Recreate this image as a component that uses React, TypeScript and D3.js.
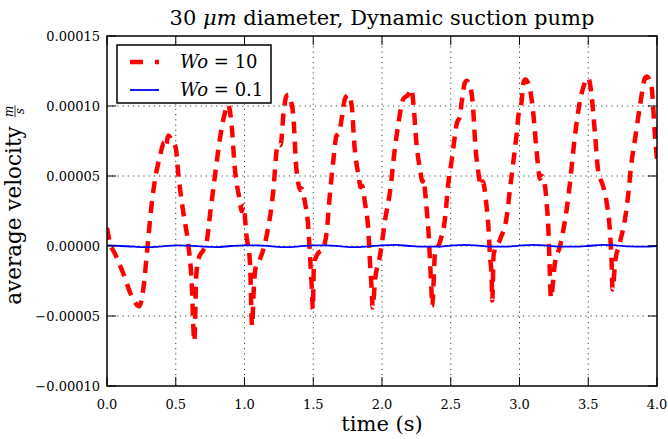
import React, { useEffect, useRef } from 'react';
import * as d3 from 'd3';

// velocities are given in units of 1e-5 m/s
const UNIT = 1e-5;

const redTime = [
  0.0, 0.02, 0.06, 0.12, 0.18, 0.235, 0.265, 0.295, 0.325, 0.35, 0.385, 0.415, 0.428, 0.446, 0.47, 0.5, 0.52, 0.555, 0.59, 0.615,
  0.635, 0.65, 0.67, 0.7, 0.725, 0.75, 0.785, 0.82, 0.86, 0.88, 0.905, 0.93, 0.965, 0.98, 0.992, 1.015, 1.04, 1.055, 1.068, 1.08,
  1.11, 1.16, 1.21, 1.235, 1.25, 1.262, 1.285, 1.305, 1.32, 1.34, 1.355, 1.375, 1.395, 1.405, 1.415, 1.44, 1.465, 1.478, 1.49, 1.497,
  1.505, 1.53, 1.57, 1.6, 1.62, 1.645, 1.67, 1.685, 1.707, 1.73, 1.755, 1.78, 1.8, 1.83, 1.845, 1.855, 1.876, 1.9, 1.913, 1.925,
  1.932, 1.95, 1.985, 2.0, 2.02, 2.06, 2.095, 2.12, 2.155, 2.19, 2.215, 2.23, 2.25, 2.276, 2.295, 2.302, 2.312, 2.325, 2.337, 2.35,
  2.36, 2.366, 2.385, 2.42, 2.46, 2.48, 2.505, 2.52, 2.545, 2.565, 2.58, 2.604, 2.615, 2.65, 2.665, 2.676, 2.7, 2.722, 2.732, 2.76,
  2.775, 2.785, 2.797, 2.802, 2.812, 2.86, 2.907, 2.93, 2.955, 2.98, 2.992, 3.015, 3.03, 3.042, 3.076, 3.1, 3.125, 3.15, 3.16, 3.185,
  3.197, 3.21, 3.22, 3.228, 3.258, 3.295, 3.32, 3.343, 3.367, 3.4, 3.43, 3.466, 3.5, 3.525, 3.55, 3.573, 3.6, 3.61, 3.634, 3.66,
  3.67, 3.677, 3.695, 3.73, 3.767, 3.79, 3.815, 3.84, 3.876, 3.913, 3.925, 3.96, 3.975, 3.985, 4.0,
];
const redVel = [
  1.3, 0.3, -0.6, -2.0, -3.6, -4.3, -3.0, 0.0, 3.0, 4.8, 6.4, 7.4, 7.1, 7.9, 7.6, 7.0, 5.0, 2.4, 0.2, -2.4,
  -6.8, -2.0, -0.8, -0.3, 0.3, 2.3, 5.0, 7.6, 9.6, 10.1, 8.8, 5.5, 3.3, 2.5, 2.9, 0.7, -1.2, -5.7, -3.0, -1.6,
  -1.0, 0.7, 4.0, 6.9, 7.3, 7.2, 9.6, 10.7, 10.8, 10.3, 9.3, 5.8, 4.3, 4.0, 4.1, 3.1, 1.2, -1.0, -3.1, -4.5,
  -1.3, -0.6, -0.2, 1.2, 3.6, 6.0, 7.9, 8.0, 9.1, 10.5, 10.8, 10.0, 7.1, 5.0, 4.2, 4.3, 3.1, 1.2, -1.2, -3.1,
  -4.4, -2.4, -0.7, 0.25, 1.7, 4.0, 7.1, 8.8, 10.5, 10.8, 11.2, 10.0, 7.4, 5.5, 4.6, 4.8, 4.0, 2.6, 1.2, -1.2,
  -3.3, -4.3, -0.6, 0.25, 2.1, 4.3, 6.0, 7.1, 8.8, 9.2, 10.3, 11.7, 11.8, 11.0, 9.5, 7.6, 5.3, 4.3, 4.6, 2.9,
  1.2, -0.7, -2.1, -3.9, -0.6, 0.5, 2.1, 4.0, 6.0, 8.1, 9.3, 10.3, 11.7, 11.9, 11.2, 9.5, 6.7, 4.8, 5.0, 4.3,
  3.1, 1.2, -1.7, -3.7, -1.2, 0.0, 1.2, 2.6, 4.5, 7.6, 9.8, 11.4, 12.0, 10.7, 7.9, 5.3, 4.5, 4.2, 3.1, 0.7,
  -1.2, -3.1, -1.2, 0.25, 1.9, 3.6, 6.0, 7.6, 10.0, 12.0, 12.1, 11.4, 9.5, 7.9, 6.2,
];

const blueTime = [
  0.0, 0.1, 0.2, 0.3, 0.4, 0.5, 0.6, 0.7, 0.8, 0.9, 1.0, 1.1, 1.2, 1.3, 1.4, 1.5, 1.6, 1.7, 1.8, 1.9, 2.0,
  2.1, 2.2, 2.3, 2.4, 2.5, 2.6, 2.7, 2.8, 2.9, 3.0, 3.1, 3.2, 3.3, 3.4, 3.5, 3.6, 3.7, 3.8, 3.9, 4.0,
];
const blueVel = [
  0.05, 0.0, -0.05, -0.08, -0.03, 0.05, 0.03, -0.05, -0.08, 0.0, 0.05, 0.05, -0.03, -0.08, -0.03, 0.05, 0.05, -0.03, -0.08, -0.03, 0.05,
  0.08, 0.0, -0.05, -0.05, 0.03, 0.08, 0.03, -0.05, -0.05, 0.03, 0.08, 0.03, -0.05, -0.05, 0.0, 0.08, 0.05, -0.03, -0.05, 0.0,
];

const xTicks = [0, 0.5, 1.0, 1.5, 2.0, 2.5, 3.0, 3.5, 4.0];
const yTicks = [-0.0001, -0.00005, 0, 0.00005, 0.0001, 0.00015];

const seriesNames = ['10', '0.1'];

const W = 668;
const H = 439;
const FONT = '"DejaVu Serif", "Liberation Serif", serif';

export default function App() {
  const svgRef = useRef<SVGSVGElement>(null);

  useEffect(() => {
    document.body.style.margin = '0';
    if (!svgRef.current) return;

    const left = 107, right = 657, top = 36, bottom = 386;
    const x = d3.scaleLinear().domain([0, 4]).range([left, right]);
    const y = d3.scaleLinear().domain([-0.0001, 0.00015]).range([bottom, top]);

    const svg = d3.select(svgRef.current)
      .attr('viewBox', `0 0 ${W} ${H}`)
      .html('');

    svg.append('rect').attr('width', W).attr('height', H).attr('fill', '#fff');

    svg.append('clipPath').attr('id', 'plotclip')
      .append('rect')
      .attr('x', left).attr('y', top)
      .attr('width', right - left).attr('height', bottom - top);

    // dotted grid
    const grid = svg.append('g')
      .attr('stroke', '#000')
      .attr('stroke-width', 1)
      .attr('stroke-dasharray', '1.2,4')
      .attr('opacity', 0.75);
    grid.selectAll('.gx')
      .data(xTicks.slice(1, -1))
      .enter()
      .append('line')
      .attr('x1', d => x(d)).attr('x2', d => x(d))
      .attr('y1', top).attr('y2', bottom);
    grid.selectAll('.gy')
      .data(yTicks.slice(1, -1))
      .enter()
      .append('line')
      .attr('x1', left).attr('x2', right)
      .attr('y1', d => y(d)).attr('y2', d => y(d));

    // data lines
    const lines = svg.append('g').attr('clip-path', 'url(#plotclip)');
    const line = d3.line<[number, number]>()
      .x(d => x(d[0]))
      .y(d => y(d[1] * UNIT))
      .curve(d3.curveMonotoneX);

    const red: [number, number][] = redTime.map((t, i) => [t, redVel[i]]);
    const blue: [number, number][] = blueTime.map((t, i) => [t, blueVel[i]]);

    lines.append('path')
      .attr('d', line(red))
      .attr('fill', 'none')
      .attr('stroke', '#ff0000')
      .attr('stroke-width', 4.5)
      .attr('stroke-dasharray', '12,8');

    lines.append('path')
      .attr('d', line(blue))
      .attr('fill', 'none')
      .attr('stroke', '#0000ff')
      .attr('stroke-width', 1.8);

    // frame
    svg.append('rect')
      .attr('x', left).attr('y', top)
      .attr('width', right - left).attr('height', bottom - top)
      .attr('fill', 'none')
      .attr('stroke', '#000')
      .attr('stroke-width', 1.5);

    // inward ticks on all four sides
    const tickLen = 9;
    const ticks = svg.append('g').attr('stroke', '#000').attr('stroke-width', 1);
    xTicks.forEach(t => {
      ticks.append('line').attr('x1', x(t)).attr('x2', x(t)).attr('y1', bottom).attr('y2', bottom - tickLen);
      ticks.append('line').attr('x1', x(t)).attr('x2', x(t)).attr('y1', top).attr('y2', top + tickLen);
    });
    yTicks.forEach(v => {
      ticks.append('line').attr('x1', left).attr('x2', left + tickLen).attr('y1', y(v)).attr('y2', y(v));
      ticks.append('line').attr('x1', right).attr('x2', right - tickLen).attr('y1', y(v)).attr('y2', y(v));
    });

    // tick labels
    svg.selectAll('.xl')
      .data(xTicks)
      .enter()
      .append('text')
      .attr('x', d => x(d))
      .attr('y', 409)
      .attr('text-anchor', 'middle')
      .attr('font-family', FONT)
      .attr('font-size', 13)
      .attr('fill', '#000')
      .text(d => d.toFixed(1));

    svg.selectAll('.yl')
      .data(yTicks)
      .enter()
      .append('text')
      .attr('x', 100)
      .attr('y', d => y(d) + 5)
      .attr('text-anchor', 'end')
      .attr('font-family', FONT)
      .attr('font-size', 13)
      .attr('fill', '#000')
      .text(d => (d < 0 ? '\u2212' : '') + Math.abs(d).toFixed(5));

    // title
    const title = svg.append('text')
      .attr('x', 382)
      .attr('y', 25)
      .attr('text-anchor', 'middle')
      .attr('font-family', FONT)
      .attr('font-size', 21)
      .attr('fill', '#000');
    title.append('tspan').text('30 ');
    title.append('tspan').attr('font-style', 'italic').text('\u03bcm');
    title.append('tspan').text(' diameter, Dynamic suction pump');

    // x label
    svg.append('text')
      .attr('x', 382)
      .attr('y', 431)
      .attr('text-anchor', 'middle')
      .attr('font-family', FONT)
      .attr('font-size', 21)
      .attr('fill', '#000')
      .text('time (s)');

    // y label with m/s fraction
    const yl = svg.append('g').attr('transform', 'translate(21,205) rotate(-90)');
    const ylText = yl.append('text')
      .attr('font-family', FONT)
      .attr('font-size', 21.5)
      .attr('fill', '#000')
      .text('average velocity');
    const textW = (ylText.node() as SVGTextElement).getComputedTextLength();
    const fracW = 12;
    const gap = 9;
    const total = textW + gap + fracW;
    ylText.attr('x', -total / 2);
    const fx = -total / 2 + textW + gap + fracW / 2;
    yl.append('line')
      .attr('x1', fx - fracW / 2).attr('x2', fx + fracW / 2)
      .attr('y1', -6).attr('y2', -6)
      .attr('stroke', '#000').attr('stroke-width', 0.8);
    yl.append('text')
      .attr('x', fx).attr('y', -8)
      .attr('text-anchor', 'middle')
      .attr('font-family', FONT).attr('font-style', 'italic')
      .attr('font-size', 12).text('m');
    yl.append('text')
      .attr('x', fx).attr('y', 3)
      .attr('text-anchor', 'middle')
      .attr('font-family', FONT).attr('font-style', 'italic')
      .attr('font-size', 12).text('s');

    // legend
    const lg = svg.append('g');
    lg.append('rect')
      .attr('x', 117).attr('y', 45)
      .attr('width', 154).attr('height', 58)
      .attr('fill', '#fff')
      .attr('stroke', '#000')
      .attr('stroke-width', 1.5);
    const legendRows = [
      { color: '#ff0000', width: 4.5, dash: '13,12', name: seriesNames[0] },
      { color: '#0000ff', width: 1.8, dash: null as string | null, name: seriesNames[1] },
    ];
    legendRows.forEach((r, i) => {
      const ry = 62 + i * 28;
      lg.append('line')
        .attr('x1', 130).attr('x2', 159)
        .attr('y1', ry).attr('y2', ry)
        .attr('stroke', r.color)
        .attr('stroke-width', r.width)
        .attr('stroke-dasharray', r.dash);
      const t = lg.append('text')
        .attr('x', 180).attr('y', ry + 6)
        .attr('font-family', FONT)
        .attr('font-size', 18)
        .attr('fill', '#000');
      t.append('tspan').attr('font-style', 'italic').text('Wo');
      t.append('tspan').text(' = ' + r.name);
    });
  }, []);

  return (
    <div style={{ width: W, height: H }}>
      <svg ref={svgRef} width={W} height={H} style={{ display: 'block' }} />
    </div>
  );
}
